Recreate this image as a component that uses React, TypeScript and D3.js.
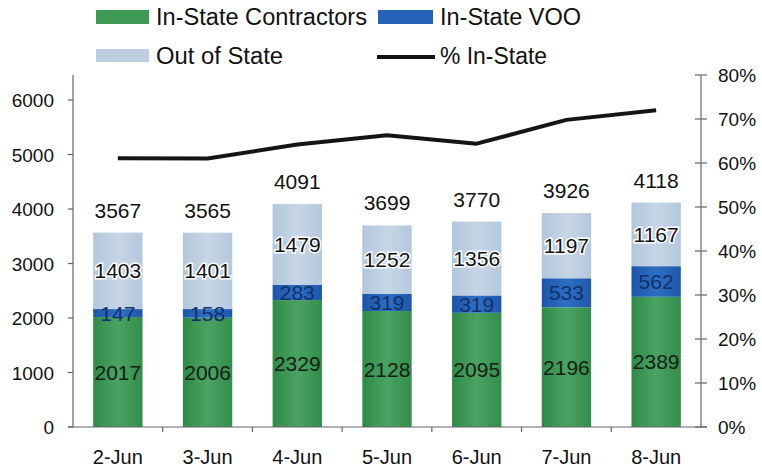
import React from "react";
import * as d3 from "d3";

const categories = ["2-Jun", "3-Jun", "4-Jun", "5-Jun", "6-Jun", "7-Jun", "8-Jun"];
const inStateContractors = [2017, 2006, 2329, 2128, 2095, 2196, 2389];
const inStateVOO = [147, 158, 283, 319, 319, 533, 562];
const outOfState = [1403, 1401, 1479, 1252, 1356, 1197, 1167];
const totals = [3567, 3565, 4091, 3699, 3770, 3926, 4118];
const pctInState = [61.1, 61.0, 64.2, 66.3, 64.4, 69.8, 72.0];
const leftTicks = [0, 1000, 2000, 3000, 4000, 5000, 6000];
const rightTicks = [0, 10, 20, 30, 40, 50, 60, 70, 80];

const seriesKeys = ["contractors", "voo", "out"];
const seriesLabels = ["In-State Contractors", "In-State VOO", "Out of State"];
const colors: Record<string, string> = {
  contractors: "#3d9954",
  voo: "#2462b8",
  out: "#bccee0",
};
const textColors: Record<string, string> = {
  contractors: "#152015",
  voo: "#12306a",
  out: "#111",
};

const W = 762;
const H = 471;
const plotL = 73;
const plotR = 701;
const font = "'Liberation Sans', Arial, Helvetica, sans-serif";

export default function App() {
  const rows = categories.map((c, i) => ({
    cat: c,
    contractors: inStateContractors[i],
    voo: inStateVOO[i],
    out: outOfState[i],
  }));
  const stack = d3.stack<any>().keys(seriesKeys)(rows);

  const x = d3.scaleBand<string>().domain(categories).range([plotL, plotR]).paddingInner(0.45).paddingOuter(0.225);
  const yL = d3.scaleLinear().domain([0, 6000]).range([427, 100]);
  const yR = d3.scaleLinear().domain([0, 80]).range([427, 75]);
  const bw = x.bandwidth();
  const cx = (c: string) => (x(c) as number) + bw / 2;

  const line = d3
    .line<number>()
    .x((_, i) => cx(categories[i]))
    .y((d) => yR(d));

  const step = (plotR - plotL) / categories.length;
  const boundaries = d3.range(1, categories.length).map((i) => plotL + i * step);

  return (
    <svg width={W} height={H} style={{ position: "absolute", left: 0, top: 0, background: "#fff" }} fontFamily={font}>
      <rect x={0} y={0} width={W} height={H} fill="#fff" />
      <defs>
        <linearGradient id="gGreen" x1="0" x2="1" y1="0" y2="0">
          <stop offset="0" stopColor="#2f8a47" />
          <stop offset="0.5" stopColor="#4aa362" />
          <stop offset="1" stopColor="#338d4b" />
        </linearGradient>
        <linearGradient id="gBlue" x1="0" x2="1" y1="0" y2="0">
          <stop offset="0" stopColor="#1c55a8" />
          <stop offset="0.5" stopColor="#2e6fc4" />
          <stop offset="1" stopColor="#1d57aa" />
        </linearGradient>
        <linearGradient id="gLight" x1="0" x2="1" y1="0" y2="0">
          <stop offset="0" stopColor="#b2c6db" />
          <stop offset="0.5" stopColor="#c6d6e6" />
          <stop offset="1" stopColor="#b4c8dc" />
        </linearGradient>
      </defs>

      {/* Legend */}
      <g fontSize={23.5} fill="#111">
        <rect x={96} y={10} width={53} height={14} fill={colors.contractors} />
        <text x={156} y={25} textLength={211} lengthAdjust="spacingAndGlyphs">{seriesLabels[0]}</text>
        <rect x={378} y={10} width={55} height={14} fill={colors.voo} />
        <text x={440} y={25} textLength={141} lengthAdjust="spacingAndGlyphs">{seriesLabels[1]}</text>
        <rect x={96} y={49} width={53} height={13} fill={colors.out} />
        <text x={156} y={64} textLength={127} lengthAdjust="spacingAndGlyphs">{seriesLabels[2]}</text>
        <line x1={377} x2={435} y1={57} y2={57} stroke="#111" strokeWidth={4} />
        <text x={440} y={64} textLength={107} lengthAdjust="spacingAndGlyphs">% In-State</text>
      </g>

      {/* Bars */}
      {stack.map((layer) => {
        const key = layer.key;
        const fill = key === "contractors" ? "url(#gGreen)" : key === "voo" ? "url(#gBlue)" : "url(#gLight)";
        return (
          <g key={key}>
            {layer.map((d, i) => (
              <rect
                key={i}
                x={x(categories[i])}
                y={yL(d[1])}
                width={bw}
                height={yL(d[0]) - yL(d[1])}
                fill={fill}
              />
            ))}
          </g>
        );
      })}

      {/* Segment labels */}
      {stack.map((layer) => (
        <g key={"l" + layer.key} fontSize={21} textAnchor="middle">
          {layer.map((d, i) => (
            <text
              key={i}
              x={cx(categories[i])}
              y={(yL(d[0]) + yL(d[1])) / 2 + 7.5}
              fill={textColors[layer.key]}
              stroke={layer.key === "out" ? "#fff" : "none"}
              strokeWidth={layer.key === "out" ? 3 : 0}
              paintOrder="stroke"
            >
              {d[1] - d[0]}
            </text>
          ))}
        </g>
      ))}

      {/* Total labels */}
      <g fontSize={21} textAnchor="middle" fill="#111">
        {totals.map((t, i) => (
          <text key={i} x={cx(categories[i])} y={yL(t) - 15}>
            {t}
          </text>
        ))}
      </g>

      {/* % line */}
      <path d={line(pctInState) || ""} fill="none" stroke="#151515" strokeWidth={4} strokeLinejoin="round" />

      {/* Axes */}
      <g stroke="#666" strokeWidth={1.2}>
        <line x1={plotL} x2={plotL} y1={yR(80)} y2={yL(0)} />
        <line x1={plotR} x2={plotR} y1={yR(80)} y2={yL(0)} />
        <line x1={plotL - 5} x2={plotR + 6} y1={yL(0)} y2={yL(0)} />
        {leftTicks.map((t) => (
          <line key={t} x1={plotL - 5} x2={plotL} y1={yL(t)} y2={yL(t)} />
        ))}
        {rightTicks.map((t) => (
          <line key={t} x1={plotR - 6} x2={plotR + 6} y1={yR(t)} y2={yR(t)} />
        ))}
        {boundaries.map((b, i) => (
          <line key={i} x1={b} x2={b} y1={yL(0)} y2={yL(0) + 5} />
        ))}
      </g>
      <g fontSize={19} textAnchor="end" fill="#111">
        {leftTicks.map((t) => (
          <text key={t} x={54} y={yL(t) + 7}>
            {t}
          </text>
        ))}
      </g>
      <g fontSize={19} textAnchor="start" fill="#111">
        {rightTicks.map((t) => (
          <text key={t} x={718} y={yR(t) + 7}>
            {t + "%"}
          </text>
        ))}
      </g>
      <g fontSize={20} textAnchor="middle" fill="#111">
        {categories.map((c) => (
          <text key={c} x={cx(c)} y={464}>
            {c}
          </text>
        ))}
      </g>
    </svg>
  );
}
